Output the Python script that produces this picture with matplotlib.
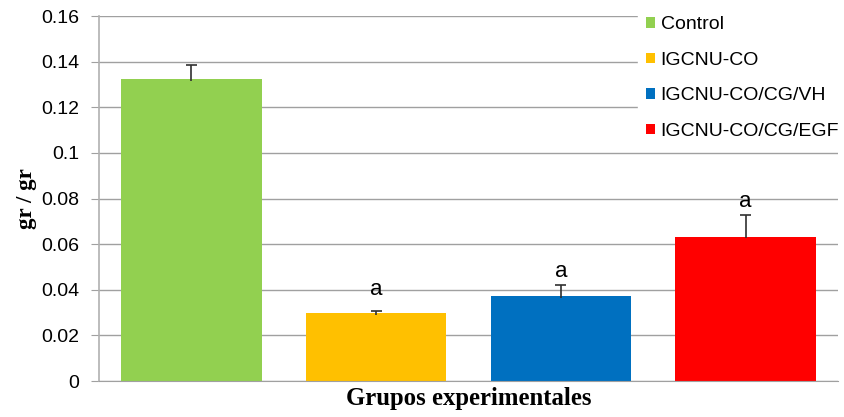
import matplotlib.pyplot as plt
from matplotlib.patches import Patch

grupos = ["Control", "IGCNU-CO", "IGCNU-CO/CG/VH", "IGCNU-CO/CG/EGF"]
medias = [0.1325, 0.0298, 0.0373, 0.0633]
errores = [0.0060, 0.0007, 0.0049, 0.0095]
letras = ["", "a", "a", "a"]
colores = ["#92d050", "#ffc000", "#0070c0", "#ff0000"]

fig = plt.figure(figsize=(8.44, 4.17), dpi=100)
ax = fig.add_axes([0.1173, 0.0863, 0.8756, 0.8753])

x = list(range(len(grupos)))
ax.bar(x, medias, width=0.76, color=colores, zorder=2)

# barras de error solo hacia arriba, con tope en el extremo superior
sup = [m + e for m, e in zip(medias, errores)]
ax.vlines(x, [m - 0.0008 for m in medias], sup, color="#303030", lw=1.2, zorder=3)
ax.hlines(sup, [i - 0.03 for i in x], [i + 0.03 for i in x], color="#303030", lw=1.2, zorder=3)

# separacion de la letra sobre cada barra
sep = [0, 0.0050, 0.0010, 0.0013]
for i, t in enumerate(letras):
    if t:
        ax.text(i, sup[i] + sep[i], t, ha="center", va="bottom",
                fontsize=16, family="Liberation Sans")

ax.set_xlim(-0.5, 3.5)
ax.set_ylim(0, 0.16)
ax.set_yticks([0, 0.02, 0.04, 0.06, 0.08, 0.1, 0.12, 0.14, 0.16])
ax.set_yticklabels(["0", "0.02", "0.04", "0.06", "0.08", "0.1", "0.12", "0.14", "0.16"])
ax.set_xticks([])
ax.tick_params(axis="y", labelsize=14, length=6, color="#a0a0a0", pad=8)
for lbl in ax.get_yticklabels():
    lbl.set_family("Liberation Sans")
ax.grid(axis="y", color="#a0a0a0", linewidth=1, zorder=0)
for s in ["top", "right"]:
    ax.spines[s].set_visible(False)
ax.spines["left"].set_color("#b0b0b0")
ax.spines["bottom"].set_color("#a0a0a0")
ax.spines["left"].set_linewidth(1.2)

ax.set_ylabel("gr / gr", fontsize=16.5, fontweight="bold", family="Liberation Serif")
ax.yaxis.set_label_coords(-0.084, 0.5)
ax.set_xlabel("Grupos experimentales", fontsize=17.8, fontweight="bold",
              family="Liberation Serif")
ax.xaxis.set_label_coords(0.5, -0.017)

handles = [Patch(facecolor=c, edgecolor="none") for c in colores]
leg = ax.legend(handles, grupos, loc="upper right", bbox_to_anchor=(1.012, 1.02),
                prop={"family": "Liberation Sans", "size": 14}, frameon=True,
                handlelength=0.45, handleheight=0.45, handletextpad=0.3,
                labelspacing=0.95, borderpad=0.4, borderaxespad=0)
leg.get_frame().set_edgecolor("white")
leg.get_frame().set_facecolor("white")
leg.get_frame().set_alpha(1)
leg.get_frame().set_boxstyle("square", pad=0)

fig.savefig("out.png", dpi=100)
